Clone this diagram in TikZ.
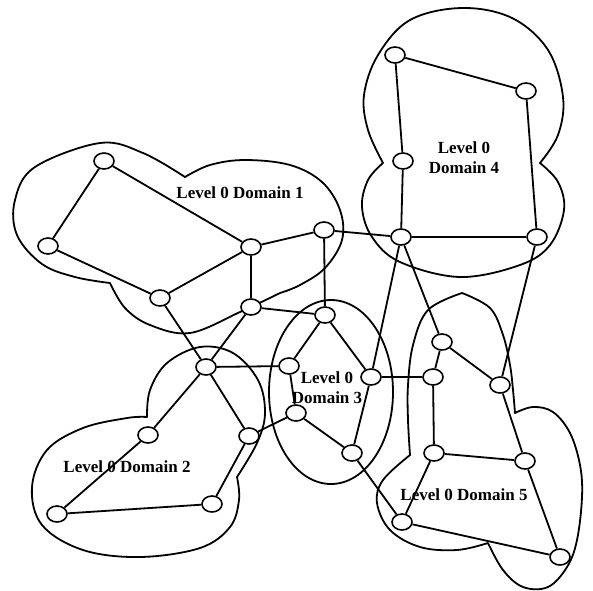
\documentclass[tikz,border=0pt]{standalone}
\usepackage{fontspec}
\setmainfont{Liberation Serif}
\usetikzlibrary{shapes.geometric}
\begin{document}
\begin{tikzpicture}[x=1pt,y=-1pt,
  vtx/.style={draw, ellipse, line width=1.6pt, minimum width=20pt, minimum height=16pt, inner sep=0pt, fill=white},
  link/.style={line width=1.8pt},
  region/.style={line width=1.8pt, line join=round},
  lbl/.style={font=\fontsize{17}{20}\selectfont\bfseries, align=center, inner sep=0pt}]
\useasboundingbox (0,0) rectangle (593,590);

% ---- domain outlines ----
% Domain 1
\draw[region] plot[smooth, tension=0.6] coordinates {(185,177) (210,165) (245,160) (290,165) (322,182) (340,210) (342,240) (325,268) (300,285) (280,293)}
  -- plot[smooth, tension=0.6] coordinates {(280,293) (240,312) (190,333) (150,325) (125,308) (110,283)}
  -- plot[smooth, tension=0.6] coordinates {(110,283) (75,277) (42,264) (17,235) (15,200) (35,167) (100,143) (143,153) (185,177)} -- cycle;
% Domain 4
\draw[region] plot[smooth, tension=0.6] coordinates {(383,163) (368,130) (364,95) (378,55) (410,20) (462,8) (512,18) (548,50) (563,97) (558,135) (540,163)}
  -- plot[smooth, tension=0.6] coordinates {(540,163) (558,182) (564,210) (550,245) (520,265) (460,277) (400,262) (372,237) (362,207) (368,180) (383,163)} -- cycle;
% Domain 3
\draw[region] (331,392) ellipse [x radius=62, y radius=92];
% Domain 2
\draw[region] plot[smooth, tension=0.6] coordinates {(147,417) (150,390) (167,363) (200,347) (233,353) (258,380) (265,413) (257,443) (237,477)}
  -- plot[smooth, tension=0.6] coordinates {(237,477) (239,500) (230,527) (200,548) (140,557) (83,550) (42,525) (32,487) (47,450) (83,428) (127,418) (147,417)} -- cycle;
% Domain 5
\draw[region] plot[smooth, tension=0.6] coordinates {(462,293) (490,308) (503,335) (510,365) (513,390) (515,413)}
  -- plot[smooth, tension=0.6] coordinates {(515,413) (533,407) (553,412) (570,433) (580,465) (582,497) (577,540) (567,567) (548,587) (523,587) (503,570) (488,543)}
  -- plot[smooth, tension=0.6] coordinates {(488,543) (457,550) (420,547) (390,530) (377,503) (383,480) (410,455)}
  -- plot[smooth, tension=0.6] coordinates {(410,455) (408,420) (408,385) (413,345) (428,310) (462,293)} -- cycle;

% ---- nodes ----
% Domain 1
\node[vtx] (a1) at (104,161) {};
\node[vtx] (a2) at (48,246) {};
\node[vtx] (a3) at (160,298) {};
\node[vtx] (a4) at (251,247) {};
\node[vtx] (a5) at (324,230) {};
\node[vtx] (a6) at (251,307) {};
% Domain 4
\node[vtx] (d1) at (395,55) {};
\node[vtx] (d2) at (526,91) {};
\node[vtx] (d3) at (403,161) {};
\node[vtx] (d4) at (401,237) {};
\node[vtx] (d5) at (537,237) {};
% Domain 3
\node[vtx] (c1) at (325,315) {};
\node[vtx] (c2) at (289,366) {};
\node[vtx] (c3) at (371,377) {};
\node[vtx] (c4) at (296,413) {};
\node[vtx] (c5) at (352,453) {};
% Domain 2
\node[vtx] (b1) at (206,367) {};
\node[vtx] (b2) at (148,435) {};
\node[vtx] (b3) at (249,436) {};
\node[vtx] (b4) at (57,514) {};
\node[vtx] (b5) at (212,504) {};
% Domain 5
\node[vtx] (e1) at (442,342) {};
\node[vtx] (e2) at (433,377) {};
\node[vtx] (e3) at (500,385) {};
\node[vtx] (e4) at (434,453) {};
\node[vtx] (e5) at (525,461) {};
\node[vtx] (e6) at (402,522) {};
\node[vtx] (e7) at (560,557) {};

% ---- links ----
\draw[link] (a1) -- (a2);
\draw[link] (a1) -- (a4);
\draw[link] (a2) -- (a3);
\draw[link] (a3) -- (a4);
\draw[link] (a4) -- (a5);
\draw[link] (a4) -- (a6);
\draw[link] (a5) -- (c1);
\draw[link] (a5) -- (d4);
\draw[link] (a6) -- (c1);
\draw[link] (a3) -- (b1);
\draw[link] (a6) -- (b1);

\draw[link] (d1) -- (d2);
\draw[link] (d1) -- (d3);
\draw[link] (d3) -- (d4);
\draw[link] (d2) -- (d5);
\draw[link] (d4) -- (d5);
\draw[link] (d4) -- (e1);
\draw[link] (d4) -- (c3);
\draw[link] (d5) -- (e3);

\draw[link] (c1) -- (c2);
\draw[link] (c1) -- (c3);
\draw[link] (c2) -- (c4);
\draw[link] (c3) -- (c5);
\draw[link] (c4) -- (c5);
\draw[link] (c2) -- (b1);
\draw[link] (c3) -- (e2);
\draw[link] (c4) -- (b3);
\draw[link] (c5) -- (e6);

\draw[link] (b1) -- (b2);
\draw[link] (b1) -- (b3);
\draw[link] (b2) -- (b4);
\draw[link] (b4) -- (b5);
\draw[link] (b5) -- (b3);

\draw[link] (e1) -- (e2);
\draw[link] (e1) -- (e3);
\draw[link] (e2) -- (e4);
\draw[link] (e3) -- (e5);
\draw[link] (e4) -- (e5);
\draw[link] (e4) -- (e6);
\draw[link] (e6) -- (e7);
\draw[link] (e5) -- (e7);

% ---- labels ----
\node[lbl] (l1) at (240,193) {Level 0 Domain 1};
\node[lbl] (l4) at (464,158) {Level 0\\Domain 4};
\node[lbl] (l3) at (327,388) {Level 0\\Domain 3};
\node[lbl] (l2) at (127,467) {Level 0 Domain 2};
\node[lbl] (l5) at (464,495) {Level 0 Domain 5};
\end{tikzpicture}
\end{document}
